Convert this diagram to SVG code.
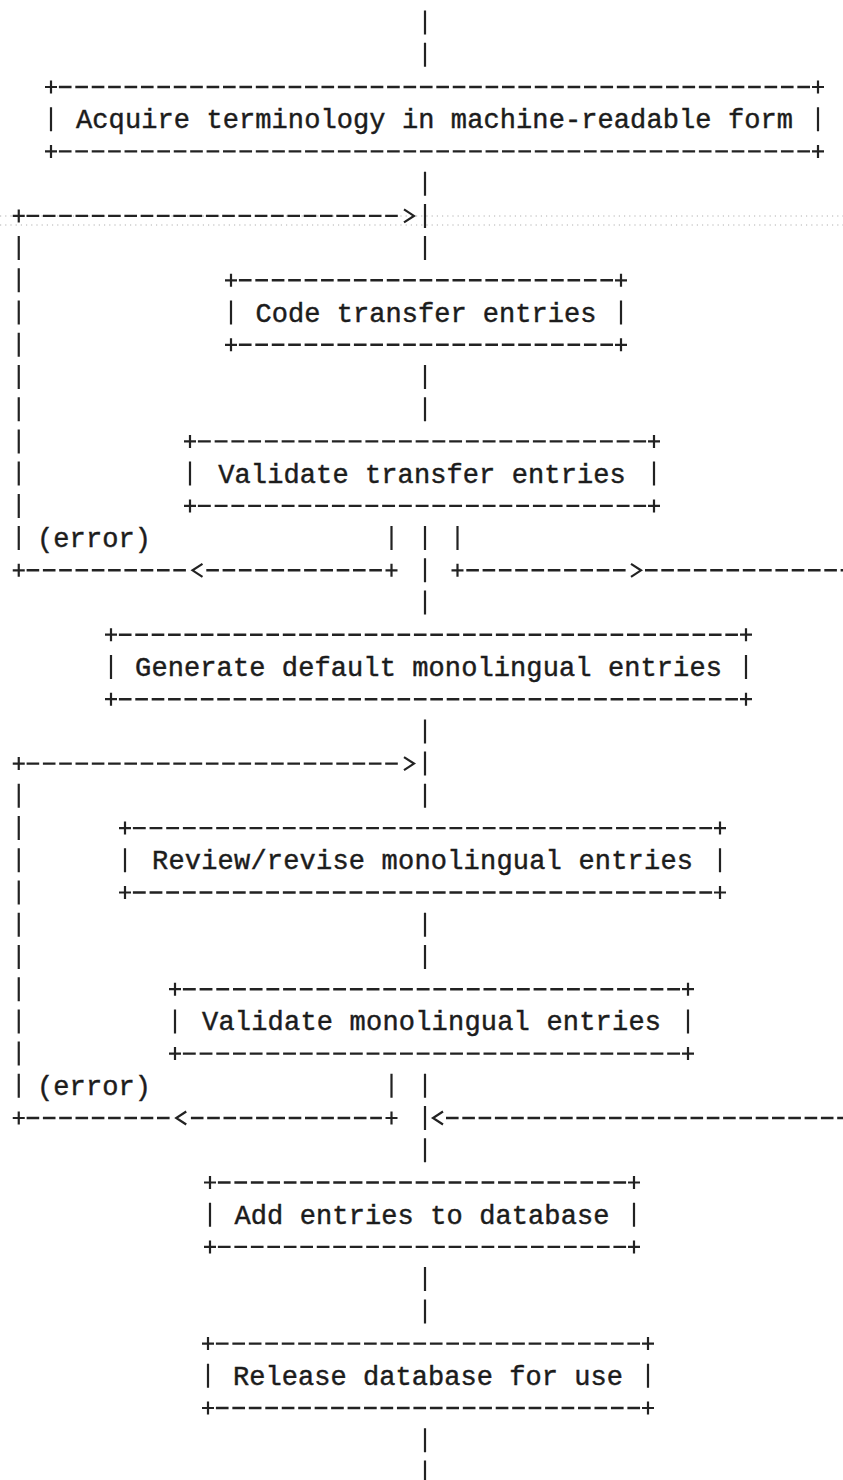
<svg xmlns="http://www.w3.org/2000/svg" width="843" height="1480" viewBox="0 0 843 1480">
<style>
.ln{stroke:#222;stroke-width:2.2;fill:none;stroke-linecap:butt}
.ds{stroke:#222;stroke-width:2.4;fill:none;stroke-dasharray:12.6 3.7}
.ar{stroke:#222;stroke-width:2.2;fill:none;stroke-linejoin:miter}
.scan{stroke:#b0b0b0;stroke-width:1;fill:none;stroke-dasharray:1.2 4}
.lbl{font-family:'Liberation Mono','DejaVu Sans Mono',monospace;font-size:27px;fill:#1c1c1c;stroke:#1c1c1c;stroke-width:0.45;text-anchor:middle}
.err{font-family:'Liberation Mono','DejaVu Sans Mono',monospace;font-size:27px;fill:#1c1c1c;stroke:#1c1c1c;stroke-width:0.45}
</style>
<defs>
<path id="plus" class="ln" d="M-6,0H6M0,-6.5V6.5"/>
<path id="gt" class="ar" d="M-5,-6.5L5,0L-5,6.5"/>
<path id="lt" class="ar" d="M5,-6.5L-5,0L5,6.5"/>
</defs>
<rect width="843" height="1480" fill="#ffffff"/>

<g id="scan-artifacts">
<path class="scan" d="M0,216H843M0,225H843"/>
</g>

<g id="connectors">
<path class="ln" d="M425,10.6V34.6M425,42.8V66.8M425,171.7V195.7M425,203.9V227.9M425,236.1V260.1M425,365V389M425,397.2V421.2M425,526.1V550.1M425,558.3V582.3M425,590.5V614.5M425,719.4V743.4M425,751.6V775.6M425,783.8V807.8M425,912.7V936.7M425,944.9V968.9M425,1073.8V1097.8M425,1106V1130M425,1138.3V1162.3M425,1267.1V1291.1M425,1299.4V1323.4M425,1428.2V1452.2M425,1460.5V1484.5"/>
<path class="ln" d="M18.75,236.1V260.1M18.75,268.3V292.3M18.75,300.5V324.5M18.75,332.8V356.8M18.75,365V389M18.75,397.2V421.2M18.75,429.4V453.4M18.75,461.6V485.6M18.75,493.9V517.9M18.75,526.1V550.1"/>
<path class="ln" d="M18.75,783.8V807.8M18.75,816.1V840.1M18.75,848.3V872.3M18.75,880.5V904.5M18.75,912.7V936.7M18.75,944.9V968.9M18.75,977.2V1001.2M18.75,1009.4V1033.4M18.75,1041.6V1065.6M18.75,1073.8V1097.8"/>
<path class="ln" d="M391.5,526.1V550.1M457.5,526.1V550.1M391.5,1073.8V1097.8"/>
<use href="#plus" x="18.75" y="215.9"/>
<path class="ds" d="M26.6,215.9H397.8"/>
<use href="#gt" x="409" y="215.9"/>
<use href="#plus" x="18.75" y="763.6"/>
<path class="ds" d="M26.6,763.6H397.8"/>
<use href="#gt" x="409" y="763.6"/>
<use href="#plus" x="18.75" y="570.3"/>
<path class="ds" d="M26.6,570.3H185.9"/>
<path class="ds" d="M206.3,570.3H381.9"/>
<use href="#lt" x="197.5" y="570.3"/>
<use href="#plus" x="391.5" y="570.3"/>
<use href="#plus" x="457.5" y="570.3"/>
<path class="ds" d="M466.3,570.3H625.6"/>
<use href="#gt" x="636" y="570.3"/>
<path class="ds" d="M645,570.3H846"/>
<use href="#plus" x="18.75" y="1118"/>
<path class="ds" d="M26.6,1118H169.6"/>
<use href="#lt" x="181.25" y="1118"/>
<path class="ds" d="M190.9,1118H381.9"/>
<use href="#plus" x="391.5" y="1118"/>
<use href="#lt" x="438" y="1118"/>
<path class="ds" d="M446,1118H846"/>
<text class="err" x="37" y="547.1" textLength="114" lengthAdjust="spacing">(error)</text>
<text class="err" x="37" y="1094.8" textLength="114" lengthAdjust="spacing">(error)</text>
</g>

<g id="node-acquire">
<path class="ds" style="stroke-dasharray:12.64 3.77" d="M58.9,87H810.1"/>
<path class="ds" style="stroke-dasharray:12.64 3.77" d="M58.9,151.4H810.1"/>
<use href="#plus" x="51" y="87"/><use href="#plus" x="818" y="87"/>
<use href="#plus" x="51" y="151.4"/><use href="#plus" x="818" y="151.4"/>
<path class="ln" d="M51,107.2V131.2M818,107.2V131.2"/>
<text class="lbl" x="434.5" y="128.2" textLength="717" lengthAdjust="spacing">Acquire terminology in machine-readable form</text>
</g>

<g id="node-code">
<path class="ds" style="stroke-dasharray:12.65 3.78" d="M238.9,280.3H613.1"/>
<path class="ds" style="stroke-dasharray:12.65 3.78" d="M238.9,344.8H613.1"/>
<use href="#plus" x="231" y="280.3"/><use href="#plus" x="621" y="280.3"/>
<use href="#plus" x="231" y="344.8"/><use href="#plus" x="621" y="344.8"/>
<path class="ln" d="M231,300.5V324.5M621,300.5V324.5"/>
<text class="lbl" x="426" y="321.5" textLength="341" lengthAdjust="spacing">Code transfer entries</text>
</g>

<g id="node-validate-transfer">
<path class="ds" style="stroke-dasharray:12.9 3.85" d="M197.9,441.4H646.1"/>
<path class="ds" style="stroke-dasharray:12.9 3.85" d="M197.9,505.9H646.1"/>
<use href="#plus" x="190" y="441.4"/><use href="#plus" x="654" y="441.4"/>
<use href="#plus" x="190" y="505.9"/><use href="#plus" x="654" y="505.9"/>
<path class="ln" d="M190,461.6V485.6M654,461.6V485.6"/>
<text class="lbl" x="422" y="482.6" textLength="407.5" lengthAdjust="spacing">Validate transfer entries</text>
</g>

<g id="node-generate">
<path class="ds" style="stroke-dasharray:12.62 3.77" d="M118.9,634.7H738.1"/>
<path class="ds" style="stroke-dasharray:12.62 3.77" d="M118.9,699.2H738.1"/>
<use href="#plus" x="111" y="634.7"/><use href="#plus" x="746" y="634.7"/>
<use href="#plus" x="111" y="699.2"/><use href="#plus" x="746" y="699.2"/>
<path class="ln" d="M111,655V679M746,655V679"/>
<text class="lbl" x="428.5" y="676" textLength="586.8" lengthAdjust="spacing">Generate default monolingual entries</text>
</g>

<g id="node-review">
<path class="ds" style="stroke-dasharray:12.83 3.83" d="M132.9,828.1H712.1"/>
<path class="ds" style="stroke-dasharray:12.83 3.83" d="M132.9,892.5H712.1"/>
<use href="#plus" x="125" y="828.1"/><use href="#plus" x="720" y="828.1"/>
<use href="#plus" x="125" y="892.5"/><use href="#plus" x="720" y="892.5"/>
<path class="ln" d="M125,848.3V872.3M720,848.3V872.3"/>
<text class="lbl" x="422.5" y="869.3" textLength="541" lengthAdjust="spacing">Review/revise monolingual entries</text>
</g>

<g id="node-validate-mono">
<path class="ds" style="stroke-dasharray:12.86 3.84" d="M182.9,989.2H680.1"/>
<path class="ds" style="stroke-dasharray:12.86 3.84" d="M182.9,1053.6H680.1"/>
<use href="#plus" x="175" y="989.2"/><use href="#plus" x="688" y="989.2"/>
<use href="#plus" x="175" y="1053.6"/><use href="#plus" x="688" y="1053.6"/>
<path class="ln" d="M175,1009.4V1033.4M688,1009.4V1033.4"/>
<text class="lbl" x="431.5" y="1030.4" textLength="459" lengthAdjust="spacing">Validate monolingual entries</text>
</g>

<g id="node-add">
<path class="ds" style="stroke-dasharray:12.69 3.79" d="M217.9,1182.5H626.1"/>
<path class="ds" style="stroke-dasharray:12.69 3.79" d="M217.9,1246.9H626.1"/>
<use href="#plus" x="210" y="1182.5"/><use href="#plus" x="634" y="1182.5"/>
<use href="#plus" x="210" y="1246.9"/><use href="#plus" x="634" y="1246.9"/>
<path class="ln" d="M210,1202.7V1226.7M634,1202.7V1226.7"/>
<text class="lbl" x="422" y="1223.7" textLength="375" lengthAdjust="spacing">Add entries to database</text>
</g>

<g id="node-release">
<path class="ds" style="stroke-dasharray:12.67 3.79" d="M215.9,1343.6H640.1"/>
<path class="ds" style="stroke-dasharray:12.67 3.79" d="M215.9,1408H640.1"/>
<use href="#plus" x="208" y="1343.6"/><use href="#plus" x="648" y="1343.6"/>
<use href="#plus" x="208" y="1408"/><use href="#plus" x="648" y="1408"/>
<path class="ln" d="M208,1363.8V1387.8M648,1363.8V1387.8"/>
<text class="lbl" x="428" y="1384.8" textLength="390" lengthAdjust="spacing">Release database for use</text>
</g>
</svg>
